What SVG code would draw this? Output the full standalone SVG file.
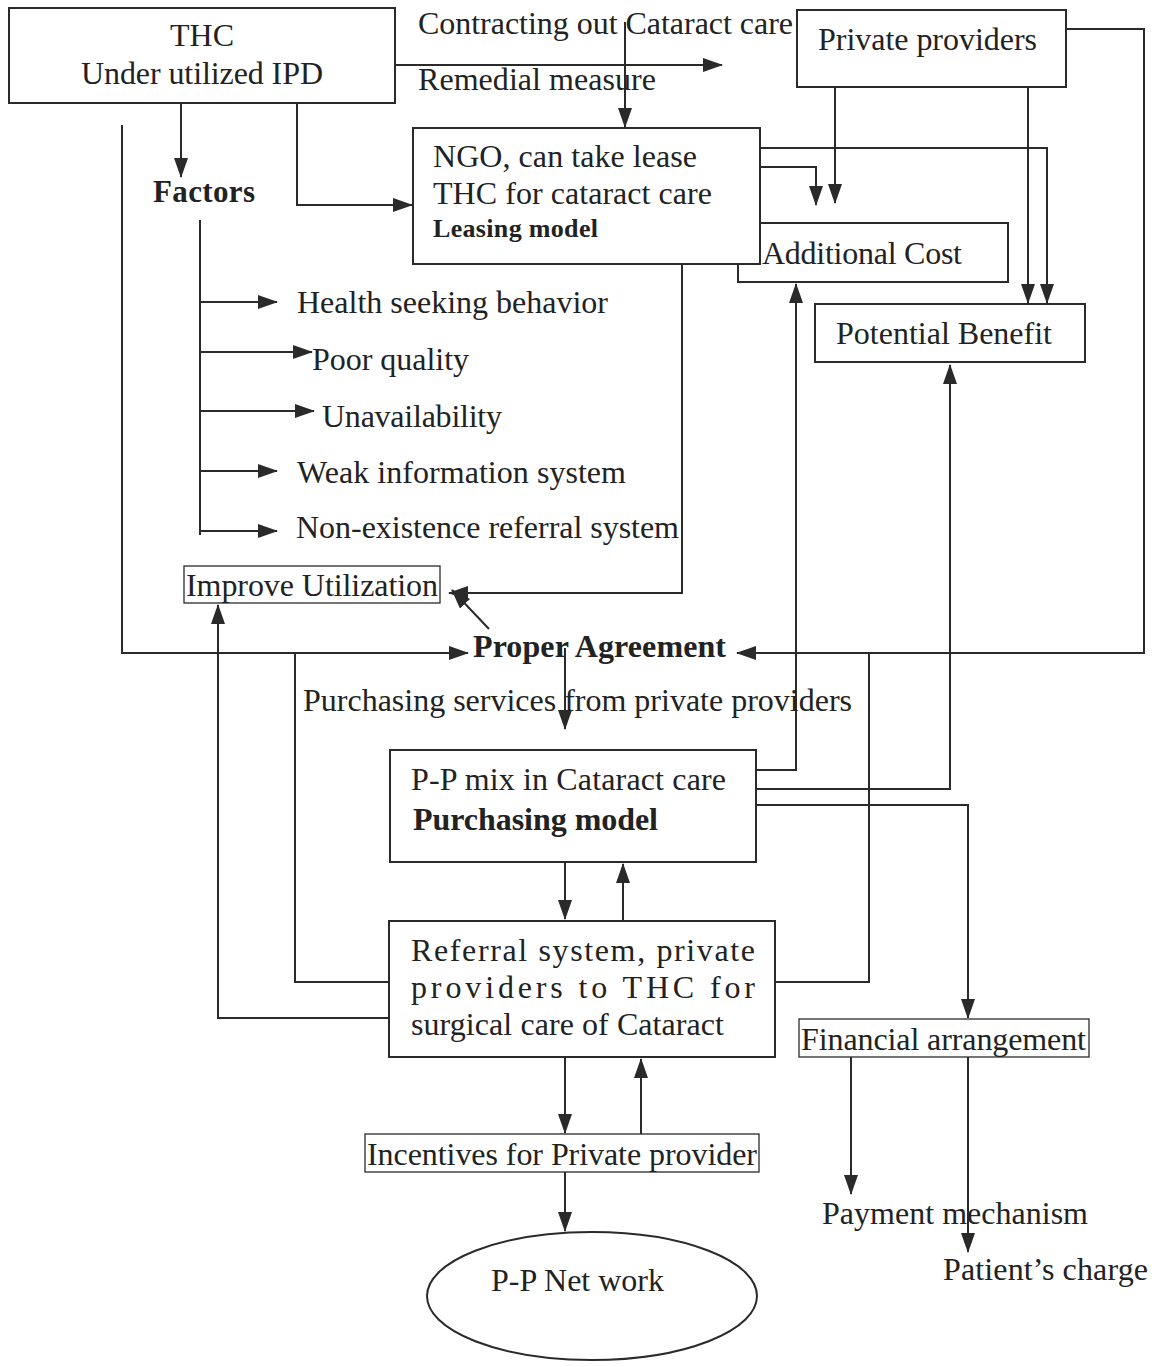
<svg xmlns="http://www.w3.org/2000/svg" width="1165" height="1367" viewBox="0 0 1165 1367">
<defs>
<marker id="ah" viewBox="0 0 20 14" refX="19" refY="7" markerWidth="20" markerHeight="14" markerUnits="userSpaceOnUse" orient="auto">
<path d="M0,0 L20,7 L0,14 z" fill="#2a2a2a"/>
</marker>
</defs>
<style>
text{font-family:"Liberation Serif","Times New Roman",serif;font-size:32px;fill:#222}
.b{font-weight:bold}
.box{fill:#fff;stroke:#2a2a2a;stroke-width:2}
.thin{fill:#fff;stroke:#2a2a2a;stroke-width:1.3}
.c path{fill:none;stroke:#2a2a2a;stroke-width:2}
.a{marker-end:url(#ah)}
</style>
<rect width="1165" height="1367" fill="#fff"/>

<g id="connectors" class="c">
<path class="a" d="M395,65 H722"/>
<path class="a" d="M625,22 V127"/>
<path class="a" d="M181,103 V177"/>
<path class="a" d="M297,103 V205 H412"/>
<path class="a" d="M122,125 V653 H468"/>
<path d="M200,220 V535"/>
<path class="a" d="M200,302 H277"/>
<path class="a" d="M200,352 H312"/>
<path class="a" d="M200,411 H314"/>
<path class="a" d="M200,471 H277"/>
<path class="a" d="M200,531 H277"/>
<path class="a" d="M760,148 H1047 V303"/>
<path class="a" d="M760,167 H816 V205"/>
<path class="a" d="M835,87 V203"/>
<path class="a" d="M1028,87 V303"/>
<path class="a" d="M1066,29 H1144 V653 H737"/>
<path class="a" d="M682,264 V593 H449"/>
<path class="a" d="M489,629 L452,590"/>
<path class="a" d="M565,648 V729"/>
<path class="a" d="M756,770 H796 V284"/>
<path class="a" d="M756,789 H950 V365"/>
<path class="a" d="M756,805 H968 V1018"/>
<path class="a" d="M565,862 V919"/>
<path class="a" d="M623,921 V864"/>
<path d="M295,653 V982 H389"/>
<path d="M869,653 V982 H775"/>
<path class="a" d="M389,1018 H218 V605"/>
<path class="a" d="M565,1057 V1133"/>
<path class="a" d="M641,1134 V1059"/>
<path class="a" d="M565,1172 V1231"/>
<path class="a" d="M851,1057 V1194"/>
<path class="a" d="M968,1057 V1252"/>
</g>

<g id="thc">
<rect class="box" x="9" y="8" width="386" height="95"/>
<text x="202" y="46" text-anchor="middle">THC</text>
<text x="81" y="84" textLength="242" lengthAdjust="spacing">Under utilized IPD</text>
</g>

<g id="contracting-label">
<text x="418" y="34" textLength="375" lengthAdjust="spacing">Contracting out Cataract care</text>
<text x="418" y="90" textLength="238" lengthAdjust="spacing">Remedial measure</text>
</g>

<g id="private-providers">
<rect class="box" x="797" y="10" width="269" height="77"/>
<text x="818" y="50" textLength="219" lengthAdjust="spacing">Private providers</text>
</g>

<g id="additional-cost">
<rect class="box" x="738" y="223" width="270" height="59"/>
<text x="762" y="264" textLength="200" lengthAdjust="spacing">Additional Cost</text>
</g>

<g id="ngo">
<rect class="box" x="413" y="128" width="347" height="136"/>
<text x="433" y="167" textLength="264" lengthAdjust="spacing">NGO, can take lease</text>
<text x="433" y="204" textLength="279" lengthAdjust="spacing">THC for cataract care</text>
<text class="b" x="433" y="237" style="font-size:26px" textLength="165" lengthAdjust="spacing">Leasing model</text>
</g>

<g id="potential-benefit">
<rect class="box" x="815" y="304" width="270" height="58"/>
<text x="836" y="344" textLength="216" lengthAdjust="spacing">Potential Benefit</text>
</g>

<g id="factors">
<text class="b" x="153" y="202" style="font-size:31px" textLength="102" lengthAdjust="spacing">Factors</text>
</g>

<g id="factor-items">
<text x="297" y="313" textLength="311" lengthAdjust="spacing">Health seeking behavior</text>
<text x="312" y="370" textLength="157" lengthAdjust="spacing">Poor quality</text>
<text x="322" y="427" textLength="180" lengthAdjust="spacing">Unavailability</text>
<text x="297" y="483" textLength="329" lengthAdjust="spacing">Weak information system</text>
<text x="296" y="538" textLength="383" lengthAdjust="spacing">Non-existence referral system</text>
</g>

<g id="improve-utilization">
<rect class="thin" x="184" y="566" width="256" height="37"/>
<text x="186" y="596" textLength="252" lengthAdjust="spacing">Improve Utilization</text>
</g>

<g id="proper-agreement">
<text class="b" x="473" y="657" textLength="253" lengthAdjust="spacing">Proper Agreement</text>
</g>

<g id="purchasing-label">
<text x="303" y="711" textLength="549" lengthAdjust="spacing">Purchasing services from private providers</text>
</g>

<g id="pp-mix">
<rect class="box" x="390" y="750" width="366" height="112"/>
<text x="411" y="790" textLength="315" lengthAdjust="spacing">P-P mix in Cataract care</text>
<text class="b" x="413" y="830" textLength="245" lengthAdjust="spacing">Purchasing model</text>
</g>

<g id="referral">
<rect class="box" x="389" y="921" width="386" height="136"/>
<text x="411" y="961" textLength="344" lengthAdjust="spacing">Referral system, private</text>
<text x="411" y="998" textLength="344" lengthAdjust="spacing">providers to THC for</text>
<text x="411" y="1035" textLength="313" lengthAdjust="spacing">surgical care of Cataract</text>
</g>

<g id="financial">
<rect class="thin" x="799" y="1019" width="290" height="38"/>
<text x="801" y="1050" textLength="285" lengthAdjust="spacing">Financial arrangement</text>
</g>

<g id="incentives">
<rect class="thin" x="365" y="1134" width="394" height="38"/>
<text x="367" y="1165" textLength="390" lengthAdjust="spacing">Incentives for Private provider</text>
</g>

<g id="pp-network">
<ellipse class="box" cx="592" cy="1296" rx="165" ry="64"/>
<text x="491" y="1291" textLength="173" lengthAdjust="spacing">P-P Net work</text>
</g>

<g id="payment">
<text x="822" y="1224" textLength="266" lengthAdjust="spacing">Payment mechanism</text>
</g>

<g id="patient-charge">
<text x="943" y="1280" textLength="205" lengthAdjust="spacing">Patient’s charge</text>
</g>
</svg>
